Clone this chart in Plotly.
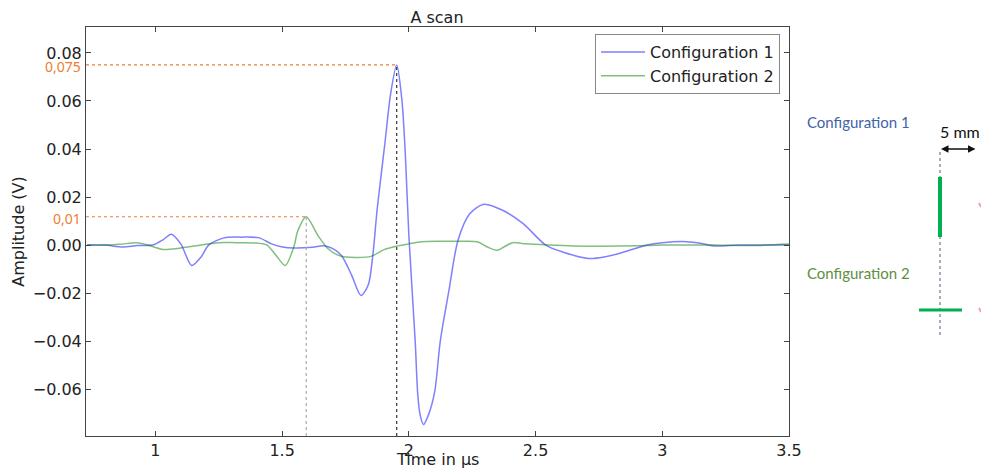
import numpy as np
import plotly.graph_objects as go

# ---------------- data ----------------
time_cfg1 = [0.73, 0.80, 0.87, 0.93, 0.99, 1.03, 1.063, 1.10, 1.143, 1.18, 1.21, 1.27, 1.34, 1.41,
             1.456, 1.50, 1.548, 1.62, 1.665, 1.70, 1.734, 1.774, 1.811, 1.84, 1.858, 1.875, 1.905,
             1.928, 1.952, 1.972, 1.986, 2.0, 2.025, 2.035, 2.045, 2.058, 2.078, 2.102, 2.124,
             2.158, 2.194, 2.24, 2.296, 2.37, 2.45, 2.54, 2.61, 2.71, 2.77, 2.845, 2.94, 3.0,
             3.08, 3.15, 3.21, 3.3, 3.4, 3.5]
amp_cfg1 = [0.0, 0.0, -0.0008, -0.0002, 0.0, 0.0022, 0.0045, 0.0005, -0.0085, -0.005, 0.0, 0.003,
            0.0033, 0.003, 0.0006, -0.0008, -0.0012, -0.0009, -0.0003, -0.0015, -0.0043, -0.0125,
            -0.021, -0.0165, -0.004, 0.015, 0.042, 0.063, 0.075, 0.061, 0.038, 0.004, -0.04, -0.062,
            -0.071, -0.0747, -0.0705, -0.061, -0.04, -0.019, 0.002, 0.013, 0.017, 0.0145, 0.009,
            0.0, -0.003, -0.0056, -0.005, -0.003, 0.0, 0.001, 0.0015, 0.0008, -0.0004, 0.0, 0.0, 0.0]

time_cfg2 = [0.73, 0.80, 0.86, 0.925, 0.97, 1.03, 1.10, 1.18, 1.25, 1.32, 1.39, 1.44, 1.476, 1.512,
             1.546, 1.562, 1.595, 1.641, 1.68, 1.72, 1.75, 1.85, 1.90, 1.95, 2.0, 2.05, 2.12, 2.2,
             2.27, 2.31, 2.35, 2.38, 2.41, 2.46, 2.55, 2.65, 2.75, 2.9, 3.0, 3.2, 3.35, 3.5]
amp_cfg2 = [0.0, 0.0, 0.0003, 0.001, 0.0, -0.0018, -0.0012, 0.0, 0.001, 0.001, 0.0009, 0.0,
            -0.0043, -0.0085, -0.0008, 0.006, 0.0118, 0.004, -0.0014, -0.0042, -0.005, -0.0047,
            -0.002, -0.0005, 0.0005, 0.0014, 0.0016, 0.0016, 0.0014, -0.0008, -0.0022, -0.0005,
            0.001, 0.0005, 0.0, -0.0004, -0.0005, -0.0003, 0.0, 0.0, -0.0002, 0.0004]

series_names = ["Configuration 1", "Configuration 2"]
x_tick_vals = [1, 1.5, 2, 2.5, 3, 3.5]
x_tick_text = ["1", "1.5", "2", "2.5", "3", "3.5"]
y_tick_vals = [-0.06, -0.04, -0.02, 0.0, 0.02, 0.04, 0.06, 0.08]
peak_labels = ["0,075", "0,01"]
x_range = [0.726, 3.5]
y_range = [-0.0795, 0.0908]

# ---------------- layout geometry ----------------
W, H = 981, 472
L, R, T, B = 86, 192, 27, 36
PW, PH = W - L - R, H - T - B


def px(x):
    return (x - L) / PW


def py(y):
    return (H - B - y) / PH


BLUE = "rgba(0,0,255,0.5)"
GREEN = "rgba(0,128,0,0.5)"
ORANGE = "#ED7D31"

fig = go.Figure()
fig.add_trace(go.Scatter(x=time_cfg1, y=amp_cfg1, mode="lines", name=series_names[0],
                         line=dict(color=BLUE, width=1.5, shape="spline", smoothing=0.8)))
fig.add_trace(go.Scatter(x=time_cfg2, y=amp_cfg2, mode="lines", name=series_names[1],
                         line=dict(color=GREEN, width=1.5, shape="spline", smoothing=0.8)))

# peak guide lines derived from the data
i1 = int(np.argmax(amp_cfg1))
i2 = int(np.argmax(amp_cfg2))
peaks = [(time_cfg1[i1], amp_cfg1[i1], "#333333"), (time_cfg2[i2], amp_cfg2[i2], "#aaaaaa")]
shapes = []
annotations = []
for (tp, vp, vcol), lab in zip(peaks, peak_labels):
    shapes.append(dict(type="line", xref="x", yref="y", x0=x_range[0], x1=tp, y0=vp, y1=vp,
                       line=dict(color=ORANGE, width=1.2, dash="dot")))
    shapes.append(dict(type="line", xref="x", yref="y", x0=tp, x1=tp, y0=y_range[0], y1=vp,
                       line=dict(color=vcol, width=1.2, dash="dot")))
    annotations.append(dict(xref="paper", yref="y", x=0, y=vp, text=lab, showarrow=False,
                            xanchor="right", yanchor="middle", xshift=-3, yshift=-2,
                            font=dict(family="Noto Sans", size=14, color=ORANGE)))

# x-axis title placed as text below the tick labels
annotations.append(dict(xref="paper", yref="paper", x=px(437), y=py(471), text="Time in µs",
                        showarrow=False, xanchor="center", yanchor="bottom",
                        font=dict(family="DejaVu Sans", size=16, color="#222222")))

# right-side configuration sketch
annotations += [
    dict(xref="paper", yref="paper", x=px(805), y=py(122), text="Configuration 1", showarrow=False,
         xanchor="left", yanchor="middle", font=dict(family="Lato", size=15, color="#3F63A8")),
    dict(xref="paper", yref="paper", x=px(805), y=py(273), text="Configuration 2", showarrow=False,
         xanchor="left", yanchor="middle", font=dict(family="Lato", size=15, color="#5E8E3E")),
    dict(xref="paper", yref="paper", x=px(938), y=py(131), text="5 mm", showarrow=False,
         xanchor="left", yanchor="middle", font=dict(family="Lato", size=16, color="#111111")),
    dict(xref="paper", yref="paper", x=px(941), y=py(149), ax=36, ay=0,
         axref="pixel", ayref="pixel", text="", showarrow=True, arrowhead=2, arrowside="end+start",
         arrowwidth=1.5, arrowsize=1, arrowcolor="#111111"),
]
shapes += [
    dict(type="line", xref="paper", yref="paper", x0=px(940), x1=px(940), y0=py(152), y1=py(338),
         line=dict(color="#8595A8", width=1.5, dash="dot")),
    dict(type="line", xref="paper", yref="paper", x0=px(940), x1=px(940), y0=py(177), y1=py(237),
         line=dict(color="#00B050", width=4)),
    dict(type="line", xref="paper", yref="paper", x0=px(919), x1=px(962), y0=py(310), y1=py(310),
         line=dict(color="#00B050", width=3)),
    dict(type="line", xref="paper", yref="paper", x0=px(979), x1=px(981), y0=py(203), y1=py(207),
         line=dict(color="#F4A0A0", width=2)),
    dict(type="line", xref="paper", yref="paper", x0=px(979), x1=px(981), y0=py(308), y1=py(312),
         line=dict(color="#F4A0A0", width=2)),
]

axis_common = dict(showline=True, linecolor="#444444", linewidth=1, mirror="ticks",
                   ticks="inside", ticklen=5, tickcolor="#444444", showgrid=False,
                   zeroline=False, automargin=False)

fig.update_layout(
    width=W, height=H,
    margin=dict(l=L, r=R, t=T, b=B),
    paper_bgcolor="white", plot_bgcolor="white",
    font=dict(family="DejaVu Sans", size=16, color="#222222"),
    title=dict(text="A scan", x=px(437), xref="paper", xanchor="center",
               y=(H - 17) / H, yref="container", yanchor="middle",
               font=dict(family="DejaVu Sans", size=16, color="#222222")),
    xaxis=dict(range=x_range, tickvals=x_tick_vals, ticktext=x_tick_text, **axis_common),
    yaxis=dict(range=y_range, tickvals=y_tick_vals, tickformat=".2f",
               title=dict(text="Amplitude (V)", standoff=4, font=dict(size=16)), **axis_common),
    legend=dict(x=px(595), y=py(34), xanchor="left", yanchor="top", bgcolor="white",
                bordercolor="#888888", borderwidth=1, itemwidth=44,
                font=dict(family="DejaVu Sans", size=16, color="#222222"), tracegroupgap=0),
    shapes=shapes,
    annotations=annotations,
    showlegend=True,
)

fig.write_html("out.html", config={"displayModeBar": False},
               post_script="document.body.style.margin='0';document.body.style.overflow='hidden';")
